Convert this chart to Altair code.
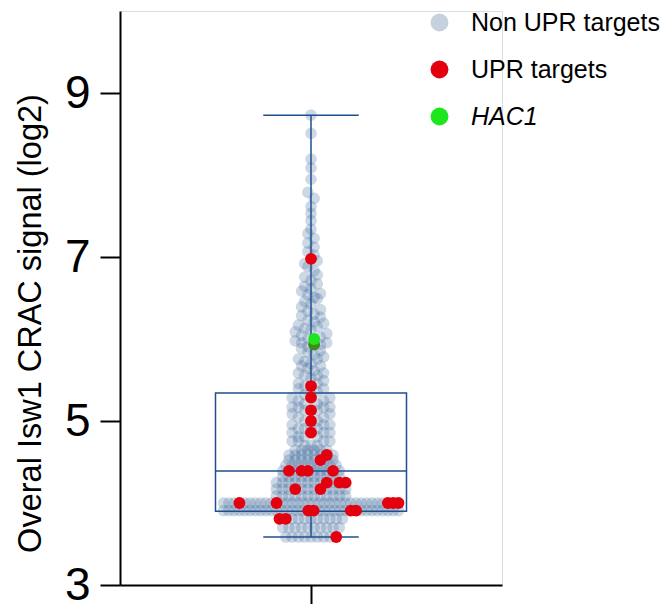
import altair as alt
import pandas as pd

# ---------------- data ----------------
NON = "Non UPR targets"
UPR = "UPR targets"
HAC1 = "HAC1"
GROUPS = [NON, UPR, HAC1]

# box-plot summary, log2 signal
BOX_Q1 = 3.90
BOX_MEDIAN = 4.39
BOX_Q3 = 5.34
BOX_LOW = 3.585
BOX_HIGH = 8.73

# low-signal rows: raw read count -> number of genes in that row (all groups)
ROW_N = [12, 13, 14, 15, 16, 17, 18, 19, 20, 21, 22, 23, 24]
ROW_TOTAL = [9, 10, 11, 34, 34, 12, 12, 12, 10, 10, 9, 8, 8]

# UPR targets inside those rows: raw count and their order within the row
UPR_ROW_N = [12, 14, 14, 15, 15, 15, 15, 16, 16, 16, 16, 16, 18, 18, 19, 19, 19, 21, 21, 21, 21, 23, 24]
UPR_ROW_ORDER = [8, 0, 1, 16, 17, 24, 25, 3, 10, 31, 32, 33, 3, 7, 8, 10, 11, 1, 3, 4, 8, 5, 6]

# higher-signal non-UPR genes (raw counts)
TAIL_N = [
    25, 25, 25, 25, 25, 25,
    26, 26, 26, 27, 27, 27, 27,
    28, 28, 28, 29, 29, 29,
    30, 30, 30, 30, 31, 31, 31,
    32, 32, 33, 33, 34, 34,
    35, 35, 36, 36, 36, 36,
    37, 37, 38, 38, 39, 39,
    40, 40, 41, 42, 42,
    43, 44, 44, 45,
    46, 47, 47, 48, 48,
    49, 50, 51, 51,
    52, 53, 54, 54, 55,
    56, 57, 58, 59,
    60, 61, 62, 62, 63,
    64, 65, 66, 67, 68,
    69, 70, 71, 72, 73,
    74, 75, 77, 78,
    79, 81, 82, 84,
    86, 88, 90,
    91, 93, 94, 96,
    98, 100, 102,
    105, 108, 110,
    114, 118,
    121, 124,
    130, 134,
    139, 144,
    150, 156,
    162, 174, 185, 196, 210, 221, 247, 272, 293, 364, 425,
]
UPR_TAIL_N = [29, 32, 35, 39, 43, 126]
HAC1_N = [61, 64]

# ---------------- table for the library ----------------
records = []
for n, total in zip(ROW_N, ROW_TOTAL):
    red = {o for rn, o in zip(UPR_ROW_N, UPR_ROW_ORDER) if rn == n}
    for i in range(total):
        records.append({"n": n, "grp": UPR if i in red else NON, "order": i, "row": 1})
for n in TAIL_N:
    records.append({"n": n, "grp": NON, "order": 0, "row": 0})
for n in UPR_TAIL_N:
    records.append({"n": n, "grp": UPR, "order": -1, "row": 0})
for n in HAC1_N:
    records.append({"n": n, "grp": HAC1, "order": -1, "row": 0})
df = pd.DataFrame(records)

box_df = pd.DataFrame({"q1": [BOX_Q1], "med": [BOX_MEDIAN], "q3": [BOX_Q3],
                       "lo": [BOX_LOW], "hi": [BOX_HIGH]})

# ---------------- styling ----------------
FONT = "Liberation Sans"
BLUE = "#1f4f8f"
POINT_BLUE = "#3d6899"
RED = "#e3000f"
GREEN = "#1de61d"
STEP = 0.033      # swarm spacing in x-scale units
SPAN = 0.916      # max swarm width in x-scale units

Y_SCALE = alt.Scale(domain=[3, 10], nice=False, zero=False)
X_SCALE = alt.Scale(domain=[-1, 1], nice=False, zero=False)
Y_AXIS = alt.Axis(values=[3, 5, 7, 9], grid=False, tickSize=20, tickWidth=2,
                  tickColor="black", domainColor="black", domainWidth=2,
                  labelFontSize=46, labelColor="black", labelFont=FONT, labelPadding=10,
                  title="Overal Isw1 CRAC signal (log2)", titleFontSize=32.5,
                  titleFont=FONT, titleFontWeight="normal", titleColor="black",
                  titlePadding=17, titleY=312)
X_AXIS = alt.Axis(values=[0], grid=False, labels=False, tickSize=19, tickWidth=2,
                  tickColor="black", domainColor="black", domainWidth=2, title=None)

base = (
    alt.Chart(df)
    .transform_calculate(y="log(datum.n) / LN2")
    .transform_calculate(band="datum.row == 1 ? datum.n : 1000 + floor(datum.y * 10 + 1e-9)")
    .transform_window(rk="row_number()", groupby=["band"],
                      sort=[alt.SortField("order"), alt.SortField("y")])
    .transform_joinaggregate(cnt="count()", groupby=["band"])
    .transform_calculate(sp=f"min({STEP}, {SPAN} / max(datum.cnt - 1, 1))")
    .transform_calculate(
        k="datum.row == 1 ? (datum.rk - 1) - (datum.cnt - 1) / 2 : "
          "(((datum.rk - 1) % 2 == 0) ? (datum.rk - 1) / 2 : -datum.rk / 2) + "
          "((datum.cnt % 2 == 0) ? 0.5 : 0)"
    )
    .transform_calculate(xo="datum.k * datum.sp")
)

x_enc = alt.X("xo:Q", scale=X_SCALE, axis=X_AXIS)
y_enc = alt.Y("y:Q", scale=Y_SCALE, axis=Y_AXIS)

color_enc = alt.Color(
    "grp:N",
    scale=alt.Scale(domain=GROUPS, range=["#c5d1dc", RED, GREEN]),
    legend=alt.Legend(
        title=None, orient="none", legendX=307, legendY=-1, padding=0,
        symbolType="circle", symbolSize=320, symbolStrokeWidth=0, symbolOpacity=1,
        labelFontSize=25, labelFont=FONT, labelColor="black", labelOffset=19,
        labelLimit=400, rowPadding=21,
        labelFontStyle=alt.ExprRef(expr="datum.label == 'HAC1' ? 'italic' : 'normal'"),
    ),
)

grey = base.transform_filter(alt.datum.grp == NON).mark_circle(
    size=135, color=POINT_BLUE, opacity=0.26
).encode(x=x_enc, y=y_enc)

red = base.transform_filter(alt.datum.grp == UPR).mark_circle(
    size=140, opacity=1
).encode(x=x_enc, y=y_enc, color=color_enc)

green = base.transform_filter(alt.datum.grp == HAC1).mark_circle(
    size=140, opacity=1
).encode(x=x_enc, y=y_enc,
         color=alt.condition("datum.n == 61", alt.value("#3f8c1a"), color_enc))

bx = alt.Chart(box_df)
box = bx.mark_rect(fillOpacity=0, stroke=BLUE, strokeWidth=1.5).encode(
    y=alt.Y("q1:Q", scale=Y_SCALE, axis=Y_AXIS), y2="q3:Q",
    x=alt.XDatum(-0.5, scale=X_SCALE), x2=alt.X2Datum(0.5))
median = bx.mark_rule(color=BLUE, strokeWidth=1.5).encode(
    y=alt.Y("med:Q", scale=Y_SCALE, axis=Y_AXIS),
    x=alt.XDatum(-0.5, scale=X_SCALE), x2=alt.X2Datum(0.5))
whisk_hi = bx.mark_rule(color=BLUE, strokeWidth=1.5).encode(
    y=alt.Y("q3:Q", scale=Y_SCALE, axis=Y_AXIS), y2="hi:Q",
    x=alt.XDatum(0, scale=X_SCALE))
whisk_lo = bx.mark_rule(color=BLUE, strokeWidth=1.5).encode(
    y=alt.Y("lo:Q", scale=Y_SCALE, axis=Y_AXIS), y2="q1:Q",
    x=alt.XDatum(0, scale=X_SCALE))
cap_hi = bx.mark_rule(color=BLUE, strokeWidth=1.5).encode(
    y=alt.Y("hi:Q", scale=Y_SCALE, axis=Y_AXIS),
    x=alt.XDatum(-0.25, scale=X_SCALE), x2=alt.X2Datum(0.25))
cap_lo = bx.mark_rule(color=BLUE, strokeWidth=1.5).encode(
    y=alt.Y("lo:Q", scale=Y_SCALE, axis=Y_AXIS),
    x=alt.XDatum(-0.25, scale=X_SCALE), x2=alt.X2Datum(0.25))

chart = (
    alt.layer(grey, box, median, whisk_hi, whisk_lo, cap_hi, cap_lo, red, green)
    .properties(width=382, height=574,
                autosize=alt.AutoSizeParams(type="none"),
                padding={"left": 112, "top": 3, "right": 158, "bottom": 19})
    .configure_view(stroke=None)
    .configure(font=FONT)
)

chart.save("out.html", embed_options={"renderer": "svg", "actions": False})
